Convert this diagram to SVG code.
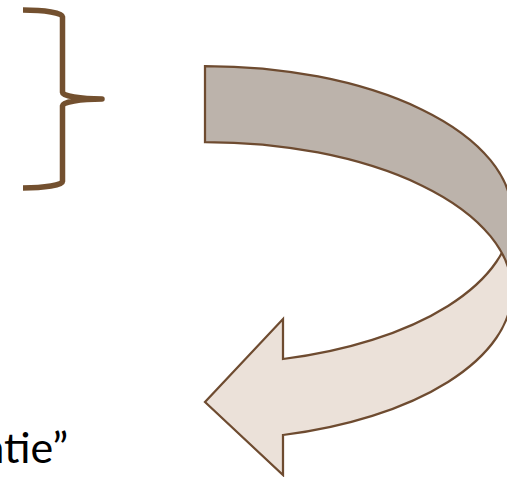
<svg xmlns="http://www.w3.org/2000/svg" width="507" height="477" viewBox="0 0 507 477">
  <style>
    .brace { fill: none; stroke: #73502F; stroke-width: 5.5; stroke-linecap: butt; stroke-linejoin: round; }
    .band { stroke: #6E4B30; stroke-width: 2.25; stroke-linejoin: miter; }
    .front { fill: #EBE1D9; }
    .back { fill: #BCB3AB; }
    .label { font-family: Lato, "Open Sans", "Liberation Sans", sans-serif; font-size: 43px; fill: #000000; }
  </style>
  <rect width="507" height="477" fill="#FFFFFF"/>
  <g id="brace">
    <path class="brace" d="M 23,10 A 39.5,6.6 0 0 1 62.5,16.6 L 62.5,92.4 A 39.5,6.6 0 0 0 102,99 A 39.5,6.6 0 0 0 62.5,105.6 L 62.5,181.4 A 39.5,6.6 0 0 1 23,188"/>
  </g>
  <g id="curved-arrow">
    <path class="band front" d="M 205,402 L 283,319 L 283,359 A 307,149 0 0 0 512,215 L 512,291 A 307,149 0 0 1 283,435 L 283,475 Z"/>
    <path class="band back" d="M 205,66 A 307,149 0 0 1 512,215 L 512,291 A 307,149 0 0 0 205,142 Z"/>
  </g>
  <g id="label">
    <text class="label" x="-17" y="463">atie”</text>
  </g>
</svg>
